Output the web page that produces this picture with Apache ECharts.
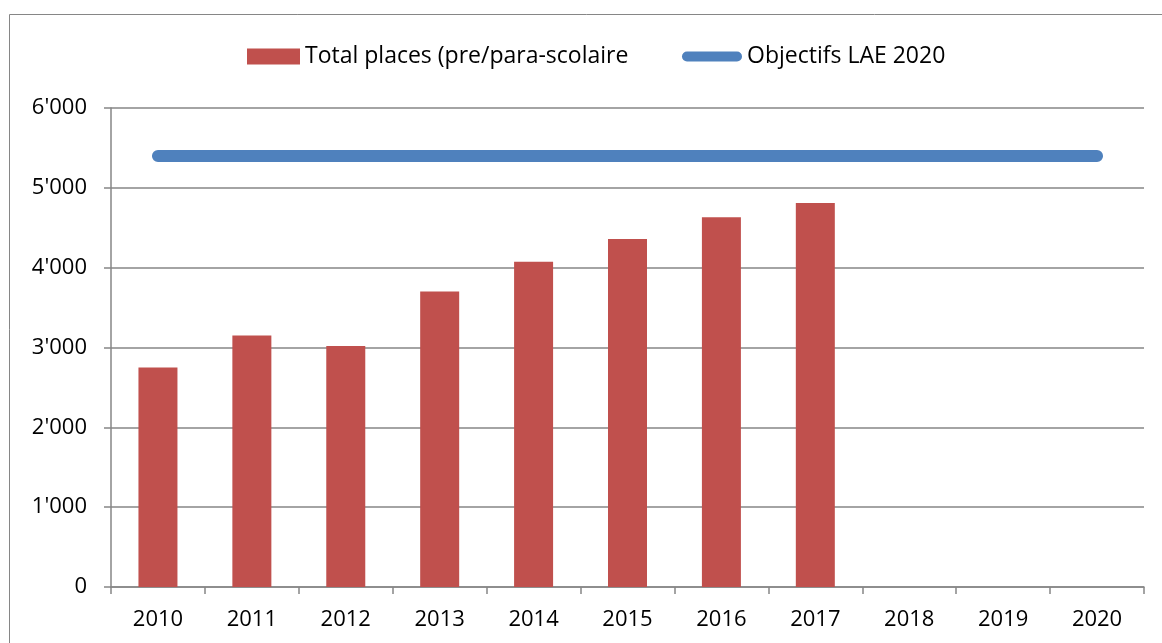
<!DOCTYPE html>
<html>
<head>
<meta charset="utf-8">
<script src="https://cdn.jsdelivr.net/npm/echarts@6/dist/echarts.min.js"></script>
<style>
  html, body { margin: 0; padding: 0; background: #fff; }
  #chart { width: 1162px; height: 643px; }
</style>
</head>
<body>
<div id="chart"></div>
<script>
// donnees
var years = ['2010', '2011', '2012', '2013', '2014', '2015', '2016', '2017', '2018', '2019', '2020'];
var totalPlaces = [2750, 3150, 3020, 3700, 4075, 4360, 4630, 4810, null, null, null];
var objectifs = [5400, 5400, 5400, 5400, 5400, 5400, 5400, 5400, 5400, 5400, 5400];
var barName = 'Total places (pre/para-scolaire';
var lineName = 'Objectifs LAE 2020';

var font = '"Open Sans", "Noto Sans", sans-serif';
var axisGrey = '#868686';

var myChart = echarts.init(document.getElementById('chart'));

var option = {
    animation: false,
    textStyle: { fontFamily: font },
    // cadre autour du graphique
    graphic: [{
        type: 'rect',
        shape: { x: 9.5, y: 14.5, width: 1200, height: 700 },
        style: { fill: 'none', stroke: axisGrey, lineWidth: 1 },
        silent: true
    }],
    legend: [{
        left: 247,
        top: 45,
        padding: 0,
        data: [{ name: barName, icon: 'rect' }],
        itemWidth: 53,
        itemHeight: 16,
        textStyle: { fontSize: 23, color: '#000', fontFamily: font }
    }, {
        left: 682,
        top: 45,
        padding: 0,
        data: [{ name: lineName, icon: 'path://M5,0 H55 A5,5 0 0 1 55,10 H5 A5,5 0 0 1 5,0 Z' }],
        itemWidth: 60,
        itemHeight: 10,
        textStyle: { fontSize: 23, color: '#000', fontFamily: font }
    }],
    grid: {
        left: 111,
        right: 18,
        top: 108,
        bottom: 56,
        containLabel: false
    },
    xAxis: {
        type: 'category',
        data: years,
        boundaryGap: true,
        axisLine: { lineStyle: { color: axisGrey, width: 1.5 } },
        axisTick: { show: true, length: 7, lineStyle: { color: axisGrey, width: 1.5 } },
        axisLabel: { color: '#000', fontSize: 22, margin: 22, fontFamily: font }
    },
    yAxis: {
        type: 'value',
        min: 0,
        max: 6000,
        interval: 1000,
        axisLine: { show: true, lineStyle: { color: axisGrey, width: 1.5 } },
        axisTick: { show: true, length: 7, lineStyle: { color: axisGrey, width: 1.5 } },
        splitLine: { show: true, lineStyle: { color: axisGrey, width: 1.5 } },
        axisLabel: {
            color: '#000',
            fontSize: 22,
            margin: 24,
            fontFamily: font,
            formatter: function(v) {
                // separateur des milliers: apostrophe
                return String(v).replace(/\B(?=(\d{3})+(?!\d))/g, "'");
            }
        }
    },
    series: [{
        name: barName,
        type: 'bar',
        data: totalPlaces,
        barWidth: 39,
        itemStyle: { color: '#C0504D' }
    }, {
        name: lineName,
        type: 'line',
        data: objectifs,
        symbol: 'none',
        lineStyle: { color: '#4F81BD', width: 12, cap: 'round' },
        itemStyle: { color: '#4F81BD' }
    }]
};

myChart.setOption(option);
</script>
</body>
</html>
